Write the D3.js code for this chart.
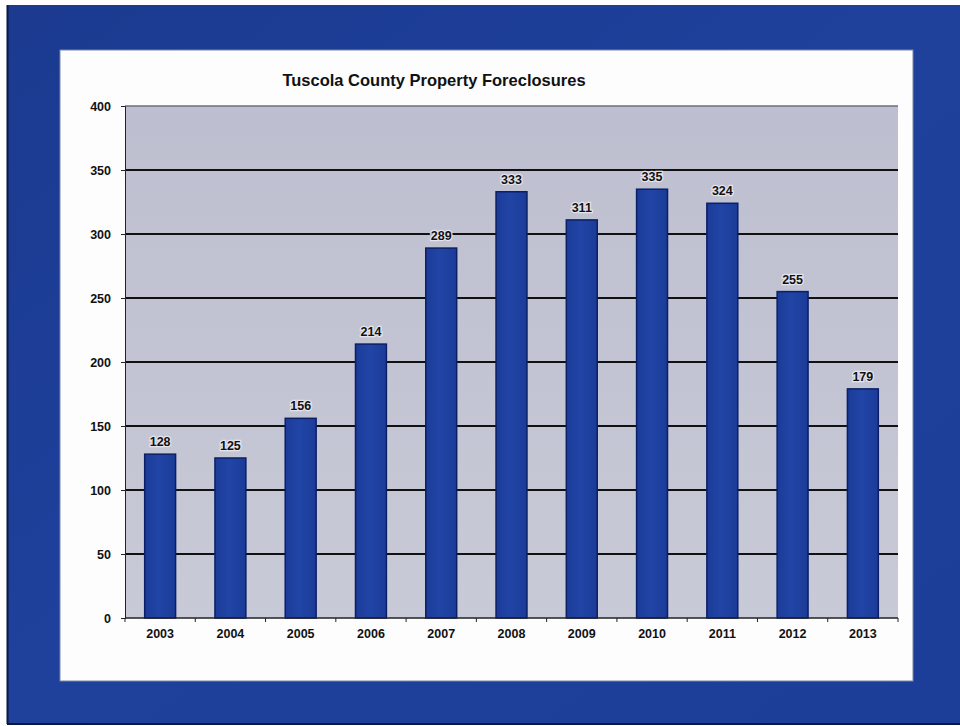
<!DOCTYPE html>
<html>
<head>
<meta charset="utf-8">
<script src="https://cdn.jsdelivr.net/npm/d3@7"></script>
<style>
  html, body { margin: 0; padding: 0; background: #ffffff; }
  svg { display: block; }
  text { font-family: "Liberation Sans", Arial, sans-serif; font-weight: bold; }
</style>
</head>
<body>
<script>
// Foreclosure counts by year
const years = ["2003","2004","2005","2006","2007","2008","2009","2010","2011","2012","2013"];
const foreclosures = [128, 125, 156, 214, 289, 333, 311, 335, 324, 255, 179];
const yTicks = [0, 50, 100, 150, 200, 250, 300, 350, 400];
const title = "Tuscola County Property Foreclosures";

const W = 960, H = 726;
const svg = d3.select("body").append("svg").attr("width", W).attr("height", H);

const defs = svg.append("defs");
const frameGrad = defs.append("linearGradient").attr("id", "frameGrad")
  .attr("x1", 0).attr("y1", 0).attr("x2", 1).attr("y2", 1);
frameGrad.append("stop").attr("offset", "0%").attr("stop-color", "#1b3a90");
frameGrad.append("stop").attr("offset", "50%").attr("stop-color", "#1f419c");
frameGrad.append("stop").attr("offset", "100%").attr("stop-color", "#1c3d98");

const plotGrad = defs.append("linearGradient").attr("id", "plotGrad")
  .attr("x1", 0).attr("y1", 0).attr("x2", 0).attr("y2", 1);
plotGrad.append("stop").attr("offset", "0%").attr("stop-color", "#bdbecf");
plotGrad.append("stop").attr("offset", "100%").attr("stop-color", "#c9cad7");

const barGrad = defs.append("linearGradient").attr("id", "barGrad")
  .attr("x1", 0).attr("y1", 0).attr("x2", 1).attr("y2", 0);
barGrad.append("stop").attr("offset", "0%").attr("stop-color", "#1b3b98");
barGrad.append("stop").attr("offset", "45%").attr("stop-color", "#2145a6");
barGrad.append("stop").attr("offset", "100%").attr("stop-color", "#1b3b98");

// Blue frame around the slide
svg.append("rect").attr("x", 7).attr("y", 5).attr("width", W - 7).attr("height", 719)
  .attr("fill", "url(#frameGrad)");
svg.append("line").attr("x1", 7.5).attr("x2", 7.5).attr("y1", 5).attr("y2", 724)
  .attr("stroke", "#0b1840").attr("stroke-width", 2);
svg.append("line").attr("x1", 7).attr("x2", W).attr("y1", 724).attr("y2", 724)
  .attr("stroke", "#0b1840").attr("stroke-width", 2);

// White chart panel
svg.append("rect").attr("x", 60).attr("y", 50).attr("width", 853).attr("height", 631)
  .attr("fill", "#fdfdfe").attr("stroke", "#7d86a8").attr("stroke-width", 1);

const plot = { left: 125, right: 898, top: 106, bottom: 618 };

const x = d3.scaleBand().domain(years).range([plot.left, plot.right])
  .paddingInner(0.56).paddingOuter(0.28);
const y = d3.scaleLinear().domain([0, 400]).range([plot.bottom, plot.top]);

// Plot area background
svg.append("rect").attr("x", plot.left).attr("y", plot.top)
  .attr("width", plot.right - plot.left).attr("height", plot.bottom - plot.top)
  .attr("fill", "url(#plotGrad)");

// Horizontal gridlines
svg.append("g").selectAll("line").data(yTicks.filter(d => d > 0 && d < 400)).join("line")
  .attr("x1", plot.left).attr("x2", plot.right)
  .attr("y1", d => y(d)).attr("y2", d => y(d))
  .attr("stroke", "#111").attr("stroke-width", 2);
svg.append("line").attr("x1", plot.left).attr("x2", plot.right)
  .attr("y1", y(400)).attr("y2", y(400))
  .attr("stroke", "#6e6e78").attr("stroke-width", 1.5);

// Y axis
const yAxis = svg.append("g").attr("transform", `translate(${plot.left},0)`)
  .call(d3.axisLeft(y).tickValues(yTicks).tickSize(4).tickPadding(10));
yAxis.select(".domain").attr("stroke", "#222").attr("stroke-width", 1);
yAxis.selectAll(".tick line").attr("stroke", "#222");
yAxis.selectAll("text").attr("font-size", 12.5).attr("fill", "#111")
  .style("font-family", "'Liberation Sans', Arial, sans-serif").style("font-weight", "bold");

// Bars
svg.append("g").selectAll("rect").data(years).join("rect")
  .attr("x", d => x(d)).attr("width", x.bandwidth())
  .attr("y", (d, i) => y(foreclosures[i]))
  .attr("height", (d, i) => y(0) - y(foreclosures[i]))
  .attr("fill", "url(#barGrad)").attr("stroke", "#0c1f66").attr("stroke-width", 1.5);

// X axis with ticks at category boundaries
const xAxisG = svg.append("g").attr("transform", `translate(0,${plot.bottom})`);
xAxisG.append("line").attr("x1", plot.left).attr("x2", plot.right)
  .attr("stroke", "#222").attr("stroke-width", 1.5);
const boundaries = d3.range(years.length + 1).map(i => plot.left + i * (plot.right - plot.left) / years.length);
xAxisG.selectAll(".bt").data(boundaries).join("line").attr("class", "bt")
  .attr("x1", d => d).attr("x2", d => d).attr("y1", 0).attr("y2", 4)
  .attr("stroke", "#222");
xAxisG.selectAll(".xl").data(years).join("text").attr("class", "xl")
  .attr("x", d => x(d) + x.bandwidth() / 2).attr("y", 20)
  .attr("text-anchor", "middle").attr("font-size", 12.5).attr("fill", "#111")
  .text(d => d);

// Value labels above bars
svg.append("g").selectAll("text").data(years).join("text")
  .attr("x", d => x(d) + x.bandwidth() / 2)
  .attr("y", (d, i) => y(foreclosures[i]) - 8)
  .attr("text-anchor", "middle").attr("font-size", 12.5).attr("fill", "#111")
  .attr("stroke", "#e4e4ec").attr("stroke-width", 2.5).attr("paint-order", "stroke")
  .text((d, i) => foreclosures[i]);

// Title
svg.append("text").attr("x", 434).attr("y", 86).attr("text-anchor", "middle")
  .attr("font-size", 16.5).attr("fill", "#111").text(title);
</script>
</body>
</html>
